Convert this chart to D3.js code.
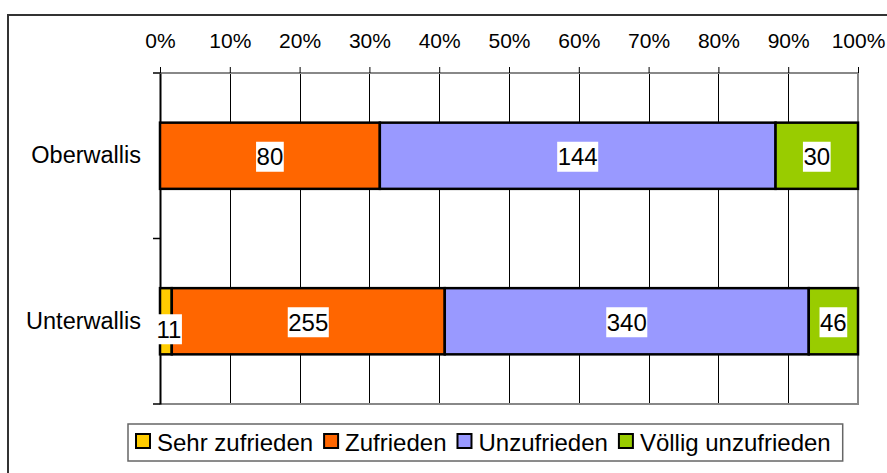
<!DOCTYPE html>
<html>
<head>
<meta charset="utf-8">
<script src="https://cdn.jsdelivr.net/npm/d3@7"></script>
<style>
  html, body { margin: 0; padding: 0; background: #fff; }
  svg { display: block; font-family: "Liberation Sans", Arial, sans-serif; }
</style>
</head>
<body>
<div id="chart"></div>
<script>
const categories = ["Oberwallis", "Unterwallis"];
const seriesNames = ["Sehr zufrieden", "Zufrieden", "Unzufrieden", "Völlig unzufrieden"];
const sehrZufrieden = [0, 11];
const zufrieden = [80, 255];
const unzufrieden = [144, 340];
const voelligUnzufrieden = [30, 46];
const tickValues = [0, 0.1, 0.2, 0.3, 0.4, 0.5, 0.6, 0.7, 0.8, 0.9, 1];
const colors = ["#FFCC00", "#FF6600", "#9999FF", "#99CC00"];

const W = 887, H = 473;
const plot = { left: 160, right: 858, top: 73, bottom: 404 };

const rows = categories.map((c, i) => ({
  cat: c,
  "Sehr zufrieden": sehrZufrieden[i],
  "Zufrieden": zufrieden[i],
  "Unzufrieden": unzufrieden[i],
  "Völlig unzufrieden": voelligUnzufrieden[i],
}));

const stacked = d3.stack().keys(seriesNames).offset(d3.stackOffsetExpand)(rows);

const svg = d3.select("#chart").append("svg")
  .attr("width", W).attr("height", H);

// outer frame
svg.append("rect")
  .attr("x", 8).attr("y", 15).attr("width", W).attr("height", H)
  .attr("fill", "none").attr("stroke", "#333").attr("stroke-width", 2);

const x = d3.scaleLinear().domain([0, 1]).range([plot.left, plot.right]);
const y = d3.scaleBand().domain(categories).range([plot.top, plot.bottom])
  .paddingInner(0.6).paddingOuter(0.3);

// gridlines
svg.append("g").selectAll("line").data(tickValues.slice(1, -1)).join("line")
  .attr("x1", (d) => Math.round(x(d)) + 0.5).attr("x2", (d) => Math.round(x(d)) + 0.5)
  .attr("y1", plot.top).attr("y2", plot.bottom)
  .attr("stroke", "#000").attr("stroke-width", 1);

// plot border (top, right, bottom)
svg.append("path")
  .attr("d", `M${plot.left},${plot.top}H${plot.right}V${plot.bottom}H${plot.left}`)
  .attr("fill", "none").attr("stroke", "#888").attr("stroke-width", 2);

// top axis
const xAxis = svg.append("g").attr("transform", `translate(0,${plot.top})`)
  .call(d3.axisTop(x).tickValues(tickValues).tickFormat(d3.format(".0%")).tickSize(6).tickPadding(19).tickSizeOuter(0));
xAxis.select(".domain").remove();
xAxis.selectAll(".tick line").attr("stroke", "#000");
xAxis.selectAll("text").attr("font-size", 21).attr("fill", "#000")
  .attr("font-family", "'Liberation Sans', Arial, sans-serif");

// left axis
const yAxis = svg.append("g").attr("transform", `translate(${plot.left},0)`)
  .call(d3.axisLeft(y).tickSize(0).tickPadding(19));
yAxis.select(".domain").attr("stroke", "#000").attr("stroke-width", 2);
yAxis.selectAll("text").attr("font-size", 23.5).attr("fill", "#000")
  .attr("font-family", "'Liberation Sans', Arial, sans-serif");
const step = y.step();
const boundaries = [plot.top].concat(categories.map((c) => y(c) - y.paddingOuter() * step + step));
svg.append("g").selectAll("line").data(boundaries).join("line")
  .attr("x1", plot.left - 7).attr("x2", plot.left)
  .attr("y1", (d) => d).attr("y2", (d) => d)
  .attr("stroke", "#000").attr("stroke-width", 1.5);

// bars
const layers = svg.append("g").selectAll("g").data(stacked).join("g")
  .attr("fill", (d, i) => colors[i]);
layers.selectAll("rect").data((d) => d).join("rect")
  .attr("x", (d) => x(d[0]))
  .attr("width", (d) => x(d[1]) - x(d[0]))
  .attr("y", (d) => y(d.data.cat))
  .attr("height", y.bandwidth())
  .attr("stroke", "#000").attr("stroke-width", 2.5);

// data labels
const labels = [];
stacked.forEach((s) => s.forEach((d) => {
  const v = d.data[s.key];
  if (v > 0) labels.push({ v, cx: (x(d[0]) + x(d[1])) / 2, cy: y(d.data.cat) + y.bandwidth() / 2 });
}));
const lg = svg.append("g").selectAll("g").data(labels).join("g");
lg.append("text")
  .attr("font-size", 24).attr("fill", "#000").attr("text-anchor", "middle")
  .attr("dy", "0.36em")
  .text((d) => d.v);
lg.each(function (d) {
  const t = d3.select(this).select("text");
  const w = t.node().getComputedTextLength() + 1;
  let left = d.cx - w / 2;
  if (left < plot.left - 4) left = plot.left - 4;
  const dy = d.cx - w / 2 < plot.left - 4 ? 7 : 0;
  t.attr("x", left + w / 2).attr("y", d.cy + 1 + dy);
  d3.select(this).insert("rect", "text")
    .attr("x", left).attr("y", d.cy - 14 + dy).attr("width", w).attr("height", 30)
    .attr("fill", "#fff");
});

// legend
const legend = svg.append("g");
const legBox = legend.append("rect")
  .attr("x", 128).attr("y", 424).attr("height", 37)
  .attr("fill", "#fff").attr("stroke", "#666").attr("stroke-width", 1.5);
let lx = 136;
seriesNames.forEach((name, i) => {
  legend.append("rect")
    .attr("x", lx).attr("y", 434).attr("width", 14).attr("height", 14)
    .attr("fill", colors[i]).attr("stroke", "#000").attr("stroke-width", 2);
  const t = legend.append("text")
    .attr("x", lx + 21).attr("y", 442).attr("dy", "0.36em")
    .attr("font-size", 24).attr("fill", "#000").text(name);
  lx += 21 + t.node().getComputedTextLength() + 11;
});
legBox.attr("width", lx - 128 + 1);
</script>
</body>
</html>
